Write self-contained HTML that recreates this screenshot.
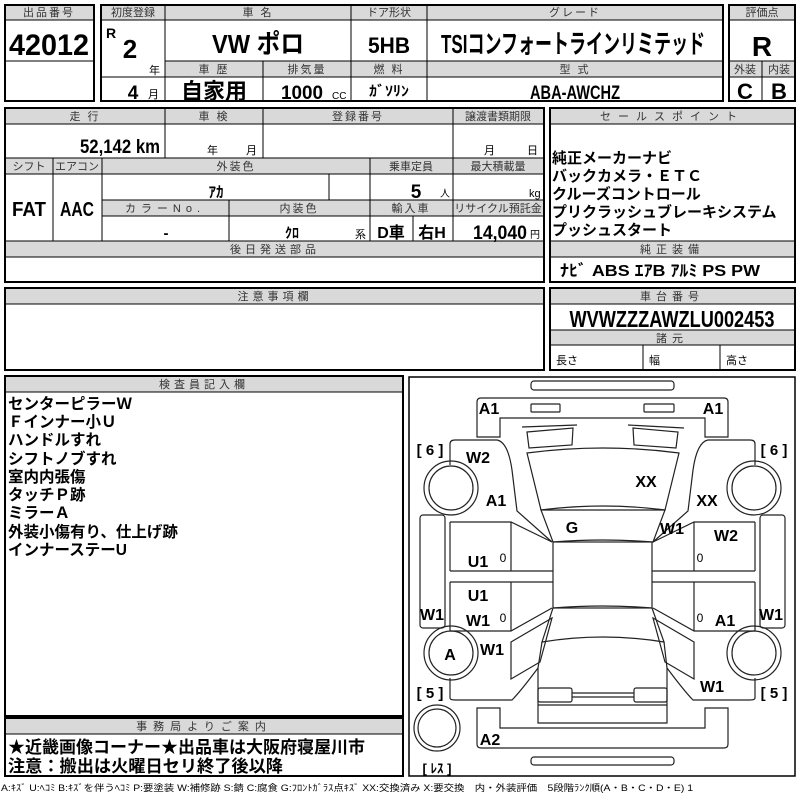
<!DOCTYPE html>
<html><head><meta charset="utf-8"><style>
html,body{margin:0;padding:0;background:#fff;width:800px;height:800px;overflow:hidden}
svg{display:block}
text{font-family:"Liberation Sans","Noto Sans CJK JP",sans-serif;fill:#000}
.h{font-size:11px;fill:#333;text-anchor:middle;letter-spacing:2px}
.c{text-anchor:middle}
.b{font-weight:bold}
.g{fill:#d9d9d9}
.ln{stroke:#000;stroke-width:1;fill:none}
.bx{stroke:#000;stroke-width:2;fill:none}
.car path,.car rect,.car circle,.car line,.car polygon{fill:none;stroke:#222;stroke-width:1.2}
.lab{font-size:16px;font-weight:bold;text-anchor:middle}
</style></head><body>
<svg width="800" height="800" viewBox="0 0 800 800" xmlns="http://www.w3.org/2000/svg">
<!-- Box 1 -->
<rect class="g" x="5" y="5" width="89" height="15"/>
<path class="ln" d="M5,20H94M5,61H94"/>
<rect class="bx" x="5" y="5" width="89" height="96"/>
<text class="h" x="49" y="16">出品番号</text>
<text class="b c" x="49" y="55" font-size="30" textLength="80" lengthAdjust="spacingAndGlyphs">42012</text>

<!-- Box 2 -->
<rect class="g" x="101" y="5" width="622" height="15"/>
<rect class="g" x="165" y="61" width="558" height="16"/>
<path class="ln" d="M101,20H723M165,61H723M101,77H723M165,5V101M351,5V101M427,5V101M263,61V101"/>
<rect class="bx" x="101" y="5" width="622" height="96"/>
<text class="h" x="133" y="16" style="letter-spacing:0">初度登録</text>
<text class="h" x="258" y="16">車 名</text>
<text class="h" x="389" y="16" style="letter-spacing:0">ドア形状</text>
<text class="h" x="575" y="16">グレード</text>
<text class="b" x="106" y="38" font-size="14">R</text>
<text class="b c" x="130" y="58" font-size="26">2</text>
<text x="149" y="74" font-size="11">年</text>
<text class="b c" x="133" y="99" font-size="19">4</text>
<text x="148" y="98" font-size="11">月</text>
<text class="b c" x="258" y="53" font-size="26" textLength="92" lengthAdjust="spacingAndGlyphs">VW ポロ</text>
<text class="b c" x="389" y="53" font-size="22" textLength="42" lengthAdjust="spacingAndGlyphs">5HB</text>
<text class="b c" x="573" y="53" font-size="26" textLength="264" lengthAdjust="spacingAndGlyphs">TSIコンフォートラインリミテッド</text>
<text class="h" x="214" y="73">車 歴</text>
<text class="h" x="307" y="73">排気量</text>
<text class="h" x="389" y="73">燃 料</text>
<text class="h" x="575" y="73">型 式</text>
<text class="b c" x="214" y="99" font-size="22">自家用</text>
<text class="b c" x="302" y="99" font-size="19" textLength="42" lengthAdjust="spacingAndGlyphs">1000</text>
<text x="332" y="99" font-size="10">CC</text>
<text class="b c" x="389" y="96" font-size="14" textLength="40" lengthAdjust="spacingAndGlyphs">ｶﾞｿﾘﾝ</text>
<text class="b c" x="575" y="99" font-size="19" textLength="90" lengthAdjust="spacingAndGlyphs">ABA-AWCHZ</text>

<!-- Eval -->
<rect class="g" x="729" y="5" width="66" height="15"/>
<rect class="g" x="729" y="61" width="66" height="16"/>
<path class="ln" d="M729,20H795M729,61H795M729,77H795M762,61V101"/>
<rect class="bx" x="729" y="5" width="66" height="96"/>
<text class="h" x="762" y="16" style="letter-spacing:0">評価点</text>
<text class="b c" x="762" y="56" font-size="28">R</text>
<text class="h" x="745" y="73" style="letter-spacing:0">外装</text>
<text class="h" x="779" y="73" style="letter-spacing:0">内装</text>
<text class="b c" x="745" y="99" font-size="22">C</text>
<text class="b c" x="779" y="99" font-size="22">B</text>

<!-- Section 2 left -->
<rect class="g" x="5" y="108" width="539" height="16"/>
<rect class="g" x="5" y="158" width="539" height="16"/>
<rect class="g" x="102" y="200" width="442" height="16"/>
<rect class="g" x="5" y="241" width="539" height="16"/>
<path class="ln" d="M5,124H544M5,158H544M5,174H544M102,200H544M102,216H544M5,241H544M5,257H544
M165,108V158M263,108V158M453,108V158
M53,158V241M102,158V241M370,158V241M453,158V241M329,174V200M229,200V241M413,216V241"/>
<rect class="bx" x="5" y="108" width="539" height="174"/>
<text class="h" x="85" y="120">走 行</text>
<text class="h" x="214" y="120">車 検</text>
<text class="h" x="358" y="120">登録番号</text>
<text class="h" x="498" y="120" style="letter-spacing:0">譲渡書類期限</text>
<text class="b" x="160" y="153" font-size="19" text-anchor="end" textLength="80" lengthAdjust="spacingAndGlyphs">52,142 km</text>
<text x="207" y="154" font-size="11">年</text>
<text x="246" y="154" font-size="11">月</text>
<text x="484" y="154" font-size="11">月</text>
<text x="527" y="154" font-size="11">日</text>
<text class="h" x="29" y="170" style="letter-spacing:0">シフト</text>
<text class="h" x="77" y="170" style="letter-spacing:0">エアコン</text>
<text class="h" x="236" y="170">外装色</text>
<text class="h" x="411" y="170" style="letter-spacing:0">乗車定員</text>
<text class="h" x="498" y="170" style="letter-spacing:0">最大積載量</text>
<text class="b c" x="29" y="216" font-size="20" textLength="34" lengthAdjust="spacingAndGlyphs">FAT</text>
<text class="b c" x="77" y="216" font-size="20" textLength="34" lengthAdjust="spacingAndGlyphs">AAC</text>
<text class="b c" x="216" y="197" font-size="15">ｱｶ</text>
<text class="b c" x="416" y="198" font-size="19">5</text>
<text x="440" y="197" font-size="10">人</text>
<text x="529" y="197" font-size="11">kg</text>
<text class="h" x="165" y="212" style="letter-spacing:5px">カラーNo.</text>
<text class="h" x="299" y="212">内装色</text>
<text class="h" x="411" y="212">輸入車</text>
<text class="h" x="498" y="212" style="letter-spacing:0">リサイクル預託金</text>
<text class="b c" x="166" y="238" font-size="15">-</text>
<text class="b c" x="292" y="238" font-size="14">ｸﾛ</text>
<text x="355" y="238" font-size="11">系</text>
<text class="b c" x="391" y="238" font-size="16">D車</text>
<text class="b c" x="432" y="238" font-size="16">右H</text>
<text class="b" x="527" y="239" font-size="19" text-anchor="end" textLength="54" lengthAdjust="spacingAndGlyphs">14,040</text>
<text x="530" y="238" font-size="10">円</text>
<text class="h" x="275" y="253" style="letter-spacing:4px">後日発送部品</text>

<!-- Section 2 right -->
<rect class="g" x="550" y="108" width="245" height="16"/>
<rect class="g" x="550" y="241" width="245" height="16"/>
<path class="ln" d="M550,124H795M550,241H795M550,257H795"/>
<rect class="bx" x="550" y="108" width="245" height="174"/>
<text class="h" x="672" y="120" style="letter-spacing:7px">セールスポイント</text>
<g class="b" font-size="15">
<text x="552" y="163">純正メーカーナビ</text>
<text x="552" y="181">バックカメラ・ＥＴＣ</text>
<text x="552" y="199">クルーズコントロール</text>
<text x="552" y="217">プリクラッシュブレーキシステム</text>
<text x="552" y="235">プッシュスタート</text>
</g>
<text class="h" x="672" y="253" style="letter-spacing:5px">純正装備</text>
<text class="b" x="560" y="276" font-size="16" textLength="200" lengthAdjust="spacingAndGlyphs">ﾅﾋﾞ  ABS  ｴｱB  ｱﾙﾐ  PS  PW</text>

<!-- Section 3 -->
<rect class="g" x="5" y="288" width="539" height="16"/>
<path class="ln" d="M5,304H544"/>
<rect class="bx" x="5" y="288" width="539" height="82"/>
<text class="h" x="275" y="300" style="letter-spacing:4px">注意事項欄</text>
<rect class="g" x="550" y="288" width="245" height="16"/>
<rect class="g" x="550" y="330" width="245" height="15"/>
<path class="ln" d="M550,304H795M550,330H795M550,345H795M643,345V370M720,345V370"/>
<rect class="bx" x="550" y="288" width="245" height="82"/>
<text class="h" x="672" y="300" style="letter-spacing:5px">車台番号</text>
<text class="b c" x="672" y="327" font-size="23" textLength="205" lengthAdjust="spacingAndGlyphs">WVWZZZAWZLU002453</text>
<text class="h" x="672" y="342" style="letter-spacing:5px">諸元</text>
<text x="556" y="364" font-size="11" fill="#333">長さ</text>
<text x="649" y="364" font-size="11" fill="#333">幅</text>
<text x="726" y="364" font-size="11" fill="#333">高さ</text>

<!-- Section 4 inspector -->
<rect class="g" x="5" y="376" width="398" height="16"/>
<path class="ln" d="M5,392H403"/>
<rect class="bx" x="5" y="376" width="398" height="340"/>
<text class="h" x="204" y="388" style="letter-spacing:4px">検査員記入欄</text>
<g class="b" font-size="15.5">
<text x="8" y="409">センターピラーＷ</text>
<text x="8" y="427">Ｆインナー小Ｕ</text>
<text x="8" y="445">ハンドルすれ</text>
<text x="8" y="464">シフトノブすれ</text>
<text x="8" y="482">室内内張傷</text>
<text x="8" y="500">タッチＰ跡</text>
<text x="8" y="518">ミラーＡ</text>
<text x="8" y="537">外装小傷有り、仕上げ跡</text>
<text x="8" y="555">インナーステーU</text>
</g>

<!-- Office -->
<rect class="g" x="5" y="718" width="398" height="16"/>
<path class="ln" d="M5,734H403"/>
<rect class="bx" x="5" y="718" width="398" height="58"/>
<text class="h" x="204" y="730" style="letter-spacing:6px">事務局よりご案内</text>
<text class="b" x="8" y="753" font-size="17" textLength="357" lengthAdjust="spacingAndGlyphs">★近畿画像コーナー★出品車は大阪府寝屋川市</text>
<text class="b" x="8" y="772" font-size="17" textLength="275" lengthAdjust="spacingAndGlyphs">注意：搬出は火曜日セリ終了後以降</text>

<text x="1" y="791" font-size="9" fill="#333" textLength="692" lengthAdjust="spacingAndGlyphs">A:ｷｽﾞ U:ﾍｺﾐ B:ｷｽﾞを伴うﾍｺﾐ P:要塗装 W:補修跡 S:錆 C:腐食 G:ﾌﾛﾝﾄｶﾞﾗｽ点ｷｽﾞ XX:交換済み X:要交換　内・外装評価　5段階ﾗﾝｸ順(A・B・C・D・E) 1</text>

<!-- Car diagram -->
<rect x="409" y="377" width="386" height="399" fill="none" stroke="#000" stroke-width="1.5"/>
<g class="car">
<rect x="531" y="381" width="143" height="9" rx="3"/>
<rect x="531" y="757" width="143" height="8" rx="3"/>
<path d="M477,437 L477,402 Q477,398 481,398 L724,398 Q728,398 728,402 L728,437 L705,437 L705,418 L500,418 L500,437 Z"/>
<rect x="531" y="404" width="29" height="8" rx="1"/>
<rect x="644" y="404" width="30" height="8" rx="1"/>
<path d="M477,708 L500,708 L500,728 L705,728 L705,708 L728,708 L728,744 Q728,748 724,748 L481,748 Q477,748 477,744 Z"/>
<path d="M522,427 L577,425 M628,425 L684,428"/>
<polygon points="527,432 573,428 572,445 529,448"/>
<polygon points="633,428 678,432 676,448 634,445"/>
<path d="M527,453 Q603,443 679,453 L665,510 Q603,502 541,510 Z"/>
<path d="M541,510 L665,510 L653,542 Q603,538 553,542 Z"/>
<rect x="553" y="542" width="99" height="66"/>
<path d="M553,608 Q603,604 652,608 L664,642 Q603,632 542,642 Z"/>
<path d="M542,642 L538,668 L538,723 L667,723 L667,668 L664,642"/>
<rect x="538" y="688" width="34" height="14" rx="2"/>
<rect x="634" y="688" width="33" height="14" rx="2"/>
<path d="M572,693 H634 M572,697 H634 M538,705 H667"/>
<g id="side">
<path d="M450,465 L450,444 Q450,440 455,440 L497,440 Q508,442 512,470 L517,511 L552,542"/>
<circle cx="451" cy="488" r="27"/><circle cx="451" cy="488" r="22"/>
<rect x="420" y="515" width="25" height="113" rx="3"/>
<path d="M450,522 H511 L552,542 M450,631 H511 L552,608 M450,522 V571 M450,582 V631 M511,522 V571 M511,582 V631 M450,571 H553 M450,582 H553"/>
<circle cx="451" cy="653" r="27"/><circle cx="451" cy="653" r="22"/>
<polygon points="511,642 552,618 540,662 511,679"/>
<path d="M450,678 V698 Q450,700 455,700 L512,700 Q520,692 538,668"/>
</g>
<use href="#side" transform="matrix(-1,0,0,1,1205,0)"/>
<circle cx="437" cy="728" r="23"/><circle cx="437" cy="728" r="19"/>
</g>
<g class="lab">
<text x="489" y="414">A1</text><text x="713" y="414">A1</text>
<text x="478" y="463">W2</text><text x="646" y="487">XX</text>
<text x="496" y="506">A1</text><text x="707" y="506">XX</text>
<text x="572" y="533">G</text><text x="672" y="534">W1</text>
<text x="726" y="541">W2</text>
<text x="478" y="567">U1</text><text x="478" y="601">U1</text>
<text x="432" y="620">W1</text><text x="478" y="626">W1</text>
<text x="725" y="626">A1</text><text x="771" y="620">W1</text>
<text x="492" y="655">W1</text><text x="450" y="660">A</text>
<text x="712" y="692">W1</text><text x="490" y="745">A2</text>
</g>
<g font-size="12" fill="#333">
<text x="503" y="562" text-anchor="middle">0</text><text x="700" y="562" text-anchor="middle">0</text>
<text x="503" y="622" text-anchor="middle">0</text><text x="700" y="622" text-anchor="middle">0</text>
</g>
<g font-size="15" font-weight="bold" text-anchor="middle">
<text x="430" y="455">[ 6 ]</text><text x="774" y="455">[ 6 ]</text>
<text x="430" y="698">[ 5 ]</text><text x="774" y="698">[ 5 ]</text>
<text x="437" y="773" font-size="13">[ ﾚｽ ]</text>
</g>
</svg>
</body></html>
